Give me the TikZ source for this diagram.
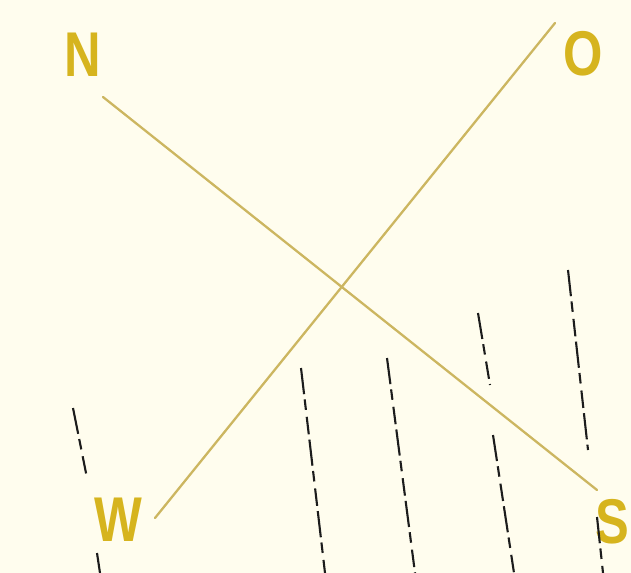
\documentclass[tikz,border=0pt]{standalone}
\usepackage{fontspec}
\setsansfont{Liberation Sans}
\usepackage{xcolor}
\definecolor{paper}{RGB}{255, 253, 238}
\definecolor{gold}{RGB}{214, 180, 30}
\definecolor{ochre}{RGB}{204, 182, 96}
\definecolor{ink}{RGB}{28, 28, 28}
\usetikzlibrary{positioning}
\newcommand{\narrow}[1]{\scalebox{0.8}[1]{#1}}

\begin{document}
\begin{tikzpicture}[
  x=0.02cm, y=-0.02cm,
  point/.style={font=\fontsize{36}{36}\selectfont\sffamily\bfseries, text=gold, inner sep=0pt},
  axis/.style={draw=ochre, line width=1.3pt, line cap=round},
  streak/.style={draw=ink, line width=1.2pt, dash pattern=on 15pt off 3pt on 6pt off 4pt on 10pt off 3pt}
]
\useasboundingbox[fill=paper] (0,0) rectangle (631,573);

\node[point] (n) at (83,55) {\narrow{N}};
\node[point] (o) at (583,54) {\narrow{O}};
\node[point] (w) at (118,520) {\narrow{W}};
\node[point, anchor=east] (s) at (630,522) {\narrow{S}};

\coordinate (nEnd) at (103,97);
\coordinate (sEnd) at (597,490);
\coordinate (oEnd) at (555,23);
\coordinate (wEnd) at (155,518);

\draw[axis] (nEnd) -- (sEnd);
\draw[axis] (oEnd) -- (wEnd);

\draw[streak] (73,408) -- (87,478);
\draw[streak] (97,553) -- (100,573);
\draw[streak] (301,368) -- (325,573);
\draw[streak] (387,358) -- (415,573);
\draw[streak] (478,313) -- (490,385);
\draw[streak] (493,435) -- (514,573);
\draw[streak] (568,270) -- (588,450);
\draw[streak] (597,517) -- (603,573);
\end{tikzpicture}
\end{document}
